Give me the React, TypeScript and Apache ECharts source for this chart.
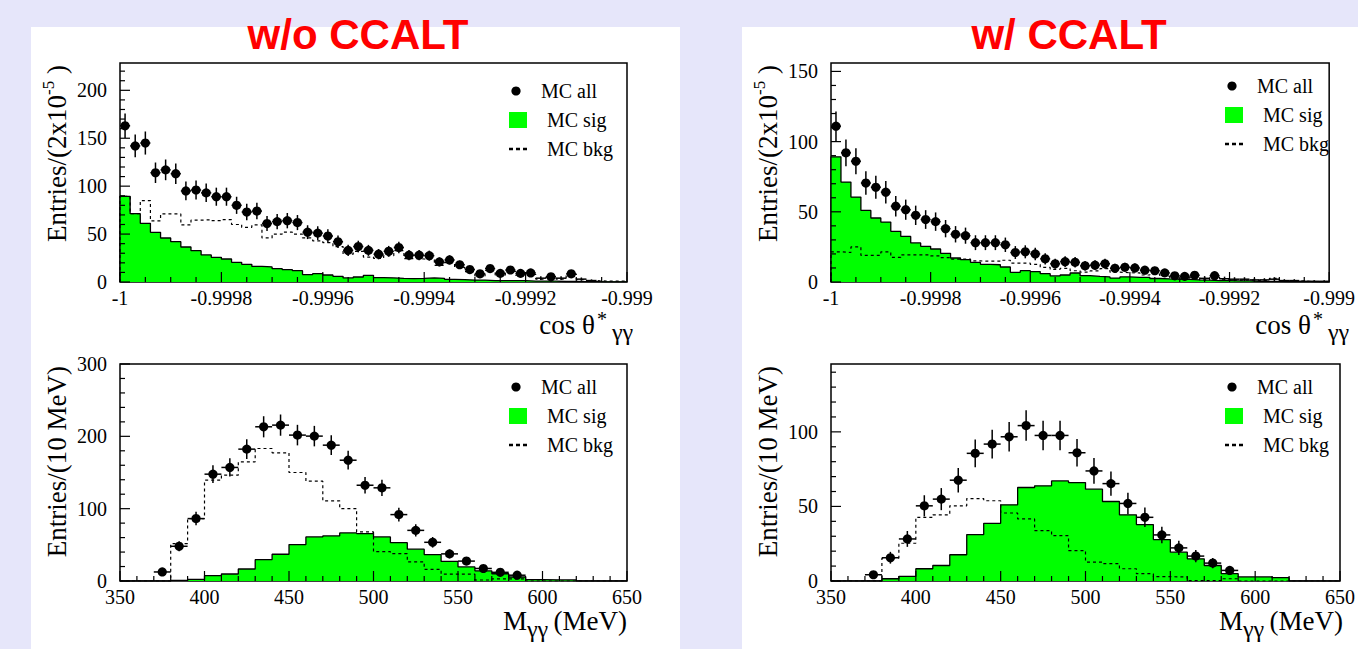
import { useEffect, useRef } from "react";
import * as echarts from "echarts";

const SERIF = '"Liberation Serif", "Times New Roman", Times, serif';
const SANS = '"Liberation Sans", Arial, Helvetica, sans-serif';
const GREEN = "#00ff00";

// ---------------- texts ----------------
const panelTitles = ["w/o CCALT", "w/ CCALT"];
const legendLabels = ["MC all", "MC sig", "MC bkg"];

// ---------------- axes ----------------
const cosRange = [-1, -0.999];
const massRange = [350, 650];
const cosTickLabels = [-1, -0.9998, -0.9996, -0.9994, -0.9992, -0.999];
const massTickLabels = [350, 400, 450, 500, 550, 600, 650];
const yLabelsCosNo = [0, 50, 100, 150, 200];
const yLabelsCosW = [0, 50, 100, 150];
const yLabelsMassNo = [0, 100, 200, 300];
const yLabelsMassW = [0, 50, 100];

// ---------------- cos(theta*) w/o CCALT (50 bins of 2e-5) ----------------
const cosAllNo = [163, 142, 145, 114, 117, 113, 95, 96, 93, 89, 89, 80, 73, 74, 61, 63, 64, 62, 52, 51, 48, 42, 33, 37, 33, 29, 32, 36, 28, 28, 27.5, 21, 23, 18, 13, 8.5, 14, 9, 12.5, 9, 9.5, 4, 5.5, 4, 8.5, 3, 1.5, 0, 0, 0];
const cosSigNo = [89.4, 71.3, 61.2, 51.8, 45.9, 42.1, 36.5, 32.7, 28.2, 25.7, 24, 20.5, 18.4, 16.3, 15.7, 13.9, 12.9, 11.8, 7.7, 8.7, 7.3, 5.9, 4.2, 5.2, 7, 4.5, 4.2, 3.8, 3.5, 3.8, 4.2, 3.8, 2.8, 2.5, 2, 2, 1.5, 1.5, 1.5, 1.5, 1, 1, 1, 0.5, 0.5, 0.3, 0.3, 0.2, 0.2, 0.2];
const cosBkgNo = [89.4, 71.3, 85, 63.7, 71, 71, 59.5, 64.5, 65, 64, 65, 60, 57, 59.5, 46, 50, 52, 50, 46, 43, 41, 37, 29, 32, 26, 24.7, 27.5, 32.7, 24.3, 24, 23.3, 17.4, 20.2, 15.2, 10.9, 6.3, 12, 7.2, 11, 7.2, 7.9, 3, 5, 3, 8, 2.5, 1.5, 1, 1, 1];
const cosCrossOnlyNo = [41, 43, 45, 46];

// ---------------- cos(theta*) w/ CCALT ----------------
const cosAllW = [111, 92, 86, 70.5, 67.5, 64, 54, 51.5, 47.5, 44.5, 43, 38, 34, 33, 28, 28, 28, 26.5, 21, 21.5, 20, 16.5, 13, 14.5, 14, 11.5, 12, 13, 9.8, 10.5, 10, 8.4, 8, 6.5, 4.4, 4, 4.8, 2.6, 4.5, 2.3, 2, 2, 1.5, 1.5, 2, 1, 1, 0.5, 0.5, 0.5];
const cosSigW = [89.2, 71.2, 60.5, 51, 45.6, 42.7, 36.1, 32.5, 27.8, 25.4, 23.5, 20.4, 17.1, 15.9, 14, 12.6, 12.3, 10.7, 6.9, 8.1, 7.4, 5.9, 4.3, 5, 6.4, 4.5, 4, 3.6, 2.8, 3.6, 3.3, 3.3, 2.5, 2.2, 2, 1.8, 1.5, 1.3, 1, 1, 0.8, 0.8, 0.5, 0.5, 0.4, 0.3, 0.2, 0.2, 0.1, 0.1];
const cosBkgW = [21.5, 21, 25, 19, 19, 21.4, 17.5, 19.3, 19.3, 19.3, 18.6, 17.4, 16.3, 16.3, 15, 14.8, 14.8, 15.5, 13.4, 13.4, 12.5, 10.4, 9, 9.7, 8, 7.1, 7.9, 9.5, 7, 6.6, 6.5, 5, 5.6, 4, 2.1, 2.2, 3.5, 1.5, 3.4, 1.5, 1.2, 1.3, 1.2, 1, 2.6, 1, 0.8, 0.5, 0.3, 0.2];
const cosCrossOnlyW = [37, 39, 40, 41, 42, 43, 44, 45, 46, 47, 48, 49];

// ---------------- M_gg w/o CCALT (30 bins of 10 MeV) ----------------
const massAllNo = [0, 0, 12.5, 48, 86.3, 147.7, 157, 182.3, 213.2, 215.5, 201.7, 200.3, 187.8, 167, 132.4, 128.8, 91.8, 70, 53.5, 37.5, 27.5, 17.3, 12, 8, 0, 0, 0, 0, 0, 0];
const massSigNo = [0, 0, 0, 1, 2.3, 7.4, 9.7, 16.6, 29.5, 37, 50.3, 61, 62.3, 66.5, 65.5, 61, 53, 44, 36.5, 27, 19.5, 14, 10, 5.5, 2, 1.5, 1.5, 0, 0, 0];
const massBkgNo = [0, 0, 0, 51.7, 86.3, 139.4, 146.3, 164.7, 183.2, 177.2, 150, 138, 110.8, 100.1, 67.8, 40.5, 37.8, 26.5, 16, 9.5, 9.5, 1.4, 2.8, 3, 0, 0, 0, 0, 0, 0];

// ---------------- M_gg w/ CCALT ----------------
const massAllW = [0, 0, 4.2, 15.6, 28.2, 50.4, 54.9, 67.6, 85.6, 91.8, 96.7, 104.2, 97.6, 97.6, 86, 73.8, 65.3, 52, 42.7, 30.9, 22.2, 16.7, 12, 7.1, 0, 0, 0, 0, 0, 0];
const massSigW = [0, 0, 0, 1.5, 3.1, 8.2, 10.4, 17.6, 31.1, 38.7, 51.1, 62.7, 63.8, 67.1, 66, 61.6, 53.3, 44.4, 37.8, 27.8, 19.3, 14.9, 10.4, 4.9, 2.7, 2.7, 2.2, 0, 0, 0];
const massBkgW = [0, 0, 0, 15.3, 25.3, 42.7, 44.4, 50.4, 55.3, 53.8, 45.6, 41.6, 33.8, 30.4, 20.4, 12.7, 11.6, 8.2, 4.9, 2.9, 2.7, 0.2, 0.2, 1.5, 0, 0, 0, 0, 0, 0];

type Panel = {
  grid: { left: number; top: number; width: number; height: number };
  x: number[];
  xStep: number;
  xMinorN: number;
  xLabels: number[];
  yMax: number;
  yStep: number;
  yMinorN: number;
  yLabels: number[];
  all: number[];
  sig: number[];
  bkg: number[];
  cross: number[];
  legendDy: number;
  kind: "cos" | "mass";
};

const panels: Panel[] = [
  { grid: { left: 120, top: 63, width: 507, height: 219 }, x: cosRange, xStep: 0.0002, xMinorN: 4, xLabels: cosTickLabels, yMax: 228.5, yStep: 50, yMinorN: 5, yLabels: yLabelsCosNo, all: cosAllNo, sig: cosSigNo, bkg: cosBkgNo, cross: cosCrossOnlyNo, legendDy: 28, kind: "cos" },
  { grid: { left: 831, top: 63, width: 512, height: 219 }, x: cosRange, xStep: 0.0002, xMinorN: 4, xLabels: cosTickLabels, yMax: 156, yStep: 50, yMinorN: 5, yLabels: yLabelsCosW, all: cosAllW, sig: cosSigW, bkg: cosBkgW, cross: cosCrossOnlyW, legendDy: 23, kind: "cos" },
  { grid: { left: 120, top: 364, width: 507, height: 217 }, x: massRange, xStep: 50, xMinorN: 5, xLabels: massTickLabels, yMax: 300, yStep: 100, yMinorN: 5, yLabels: yLabelsMassNo, all: massAllNo, sig: massSigNo, bkg: massBkgNo, cross: [], legendDy: 23, kind: "mass" },
  { grid: { left: 831, top: 364, width: 512, height: 217 }, x: massRange, xStep: 50, xMinorN: 5, xLabels: massTickLabels, yMax: 145.5, yStep: 50, yMinorN: 5, yLabels: yLabelsMassW, all: massAllW, sig: massSigW, bkg: massBkgW, cross: [], legendDy: 23, kind: "mass" },
];

function stepData(vals: number[], min: number, max: number) {
  const n = vals.length;
  const w = (max - min) / n;
  const pts: number[][] = [[min, 0]];
  vals.forEach((v, i) => pts.push([min + i * w, v]));
  pts.push([max, vals[n - 1]]);
  pts.push([max, 0]);
  return pts;
}

function tickData(p: Panel) {
  const out: number[][] = [];
  const [x0, x1] = p.x;
  const xs = p.xStep / p.xMinorN;
  for (let k = 0; ; k++) {
    const v = x0 + k * xs;
    if (v > x1 + xs * 1e-6) break;
    out.push([v, 0, k % p.xMinorN === 0 ? 10 : 5, 0]);
  }
  const ys = p.yStep / p.yMinorN;
  for (let k = 0; ; k++) {
    const v = k * ys;
    if (v > p.yMax + 1e-9) break;
    out.push([x0, v, k % p.yMinorN === 0 ? 10 : 5, 1]);
  }
  return out;
}

function txt(x: number, y: number, text: string, size: number, align: string, extra: any = {}) {
  return {
    type: "text", z: 10, x, y, ...extra,
    style: { text, fill: "#000", fontFamily: SERIF, fontSize: size, align, verticalAlign: "middle", textAlign: align, textVerticalAlign: "middle" },
  };
}

function buildOption() {
  const grid: any[] = [];
  const xAxis: any[] = [];
  const yAxis: any[] = [];
  const series: any[] = [];
  const graphic: any[] = [];

  // white panels
  graphic.push({ type: "rect", z: -10, shape: { x: 31, y: 27, width: 649, height: 622 }, style: { fill: "#ffffff" } });
  graphic.push({ type: "rect", z: -10, shape: { x: 742, y: 27, width: 616, height: 622 }, style: { fill: "#ffffff" } });

  // titles
  [358, 1069].forEach((cx, i) => {
    graphic.push({
      type: "text", x: cx, y: 34, z: 10,
      style: { text: panelTitles[i], fill: "#ff0000", fontFamily: SANS, fontWeight: "bold", fontSize: 42, align: "center", verticalAlign: "middle", textAlign: "center", textVerticalAlign: "middle" },
    });
  });

  panels.forEach((p, i) => {
    const g = p.grid;
    const R = g.left + g.width;
    const B = g.top + g.height;
    grid.push({ ...g, show: true, borderColor: "#000", borderWidth: 1.5, backgroundColor: "transparent", containLabel: false });
    xAxis.push({
      gridIndex: i, type: "value", min: p.x[0], max: p.x[1],
      axisLine: { show: false }, axisTick: { show: false }, splitLine: { show: false },
      axisLabel: { customValues: p.xLabels, fontFamily: SERIF, fontSize: 20, color: "#000", margin: 6 },
    });
    yAxis.push({
      gridIndex: i, type: "value", min: 0, max: p.yMax,
      axisLine: { show: false }, axisTick: { show: false }, splitLine: { show: false },
      axisLabel: { customValues: p.yLabels, fontFamily: SERIF, fontSize: 20, color: "#000", margin: 13 },
    });

    const n = p.all.length;
    const w = (p.x[1] - p.x[0]) / n;

    // signal (filled)
    series.push({
      type: "line", xAxisIndex: i, yAxisIndex: i, step: "end", symbol: "none", silent: true, z: 2,
      data: stepData(p.sig, p.x[0], p.x[1]),
      lineStyle: { color: "#000", width: 1.3 },
      areaStyle: { color: GREEN, opacity: 1 },
    });
    // background (dashed)
    series.push({
      type: "line", xAxisIndex: i, yAxisIndex: i, step: "end", symbol: "none", silent: true, z: 3,
      data: stepData(p.bkg, p.x[0], p.x[1]),
      lineStyle: { color: "#000", width: 1.2, type: [3, 3] },
    });
    // MC all points with errors
    const allData = p.all
      .map((v, k) => [p.x[0] + (k + 0.5) * w, v, w / 2, p.cross.includes(k) ? 0 : 1])
      .filter((d) => d[1] > 0);
    series.push({
      type: "custom", xAxisIndex: i, yAxisIndex: i, silent: true, z: 5, data: allData,
      renderItem: (_params: any, api: any) => {
        const x = api.value(0), v = api.value(1), hw = api.value(2), mk = api.value(3);
        const err = Math.sqrt(v);
        const c = api.coord([x, v]);
        const hi = api.coord([x, v + err]);
        const lo = api.coord([x, Math.max(0, v - err)]);
        const l = api.coord([x - hw, v]);
        const r = api.coord([x + hw, v]);
        const children: any[] = [
          { type: "line", shape: { x1: c[0], y1: hi[1], x2: c[0], y2: lo[1] }, style: { stroke: "#000", lineWidth: 1.5 } },
          { type: "line", shape: { x1: l[0], y1: c[1], x2: r[0], y2: c[1] }, style: { stroke: "#000", lineWidth: 1.5 } },
        ];
        if (mk) children.push({ type: "circle", shape: { cx: c[0], cy: c[1], r: 4.6 }, style: { fill: "#000" } });
        return { type: "group", children };
      },
    });
    // ticks
    series.push({
      type: "custom", xAxisIndex: i, yAxisIndex: i, silent: true, z: 6, data: tickData(p),
      renderItem: (_params: any, api: any) => {
        const pt = api.coord([api.value(0), api.value(1)]);
        const len = api.value(2);
        const kind = api.value(3);
        if (kind === 0) return { type: "line", shape: { x1: pt[0], y1: pt[1], x2: pt[0], y2: pt[1] - len }, style: { stroke: "#000", lineWidth: 1.2 } };
        return { type: "line", shape: { x1: pt[0], y1: pt[1], x2: pt[0] + len, y2: pt[1] }, style: { stroke: "#000", lineWidth: 1.2 } };
      },
    });

    // legend
    const T = g.top + p.legendDy;
    graphic.push({ type: "circle", z: 10, shape: { cx: R - 111, cy: T, r: 4.6 }, style: { fill: "#000" } });
    graphic.push({ type: "rect", z: 10, shape: { x: R - 118, y: T + 29 - 8, width: 18, height: 16 }, style: { fill: GREEN } });
    graphic.push({ type: "line", z: 10, shape: { x1: R - 118, y1: T + 58, x2: R - 100, y2: T + 58 }, style: { stroke: "#000", lineWidth: 2.5, lineDash: [4, 3] } });
    [0, 1, 2].forEach((k) => {
      graphic.push(txt(k === 0 ? R - 86 : R - 80, T + 29 * k, legendLabels[k], 20, "left"));
    });

    // y title
    const yTitle = p.kind === "cos" ? "{a|Entries/(2x10}{s|-5}{a| )}" : "{a|Entries/(10 MeV)}";
    graphic.push({
      type: "text", z: 10, x: g.left - 63, y: g.top + 2, rotation: Math.PI / 2,
      style: {
        text: yTitle, fill: "#000", fontFamily: SERIF, fontSize: 27, align: "right", verticalAlign: "middle", textAlign: "right", textVerticalAlign: "middle",
        rich: {
          a: { fontFamily: SERIF, fontSize: 27, color: "#000", lineHeight: 34 },
          s: { fontFamily: SERIF, fontSize: 17, color: "#000", verticalAlign: "top", lineHeight: 34 },
        },
      },
    });

    // x title
    if (p.kind === "cos") {
      graphic.push(txt(R - 32, B + 43, "cos θ", 27, "right"));
      graphic.push(txt(R - 30, B + 37, "*", 20, "left"));
      graphic.push(txt(R - 15, B + 50, "γγ", 24, "left"));
    } else {
      graphic.push(txt(R, B + 40, "(MeV)", 27, "right"));
      graphic.push(txt(R - 100, B + 40, "M", 27, "right"));
      graphic.push(txt(R - 100, B + 48, "γγ", 24, "left"));
    }
  });

  return {
    animation: false,
    backgroundColor: "#e6e6fa",
    grid, xAxis, yAxis, series, graphic,
  };
}

export default function App() {
  const ref = useRef<HTMLDivElement>(null);
  useEffect(() => {
    if (!ref.current) return;
    const chart = echarts.init(ref.current, undefined, { renderer: "svg" });
    chart.setOption(buildOption() as any);
    return () => chart.dispose();
  }, []);
  return <div ref={ref} style={{ position: "absolute", left: 0, top: 0, width: 1358, height: 649 }} />;
}
